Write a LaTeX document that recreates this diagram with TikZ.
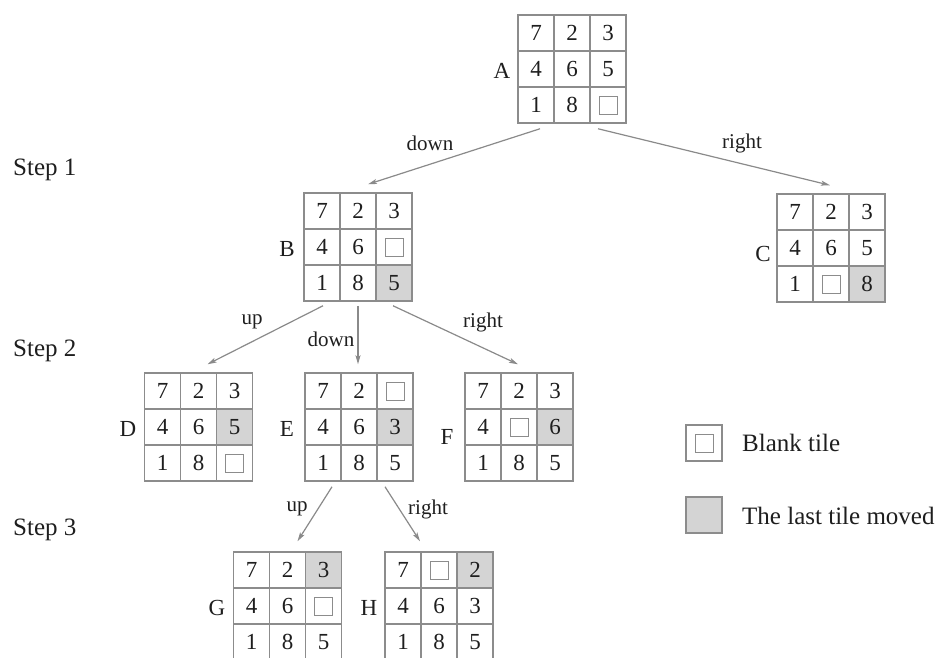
\documentclass[tikz,border=0pt]{standalone}
\usepackage{fontspec}
\setmainfont{Liberation Serif}
\usetikzlibrary{arrows.meta,calc,matrix}
\definecolor{gridc}{HTML}{8C8C8C}
\definecolor{shadec}{HTML}{D4D4D4}
\definecolor{arrc}{HTML}{8A8A8A}
\definecolor{txtc}{HTML}{1E1E1E}
\begin{document}
\begin{tikzpicture}[x=1pt,y=-1pt,
  cell/.style={draw=gridc,line width=1.1pt,minimum size=36pt,inner sep=0pt,
    text=txtc,font=\fontsize{23}{27}\selectfont,text height=15.5pt,text depth=0pt},
  board/.style={matrix of nodes,nodes={cell},column sep=-1.1pt,row sep=-1.1pt,inner sep=0pt},
  blank/.style={path picture={\draw[gridc,line width=1pt]
    ($(path picture bounding box.center)+(-9,-9)$) rectangle ($(path picture bounding box.center)+(9,9)$);}},
  last/.style={fill=shadec},
  lbl/.style={font=\fontsize{23}{27}\selectfont,text=txtc,inner sep=0pt},
  steplbl/.style={font=\fontsize{25}{29}\selectfont,text=txtc,inner sep=0pt},
  conn/.style={draw=arrc,line width=1.2pt,-{Stealth[length=9pt,width=5pt,inset=2pt]}},
  mv/.style={font=\fontsize{21}{25}\selectfont,text=txtc,inner sep=0pt}]
\useasboundingbox (0,0) rectangle (947,657);

% boards
\matrix (A) [board] at (572,69) {7 & 2 & 3\\ 4 & 6 & 5\\ 1 & 8 & |[blank]| \\};
\matrix (B) [board] at (358,247) {7 & 2 & 3\\ 4 & 6 & |[blank]| \\ 1 & 8 & |[last]| 5\\};
\matrix (C) [board] at (831,248) {7 & 2 & 3\\ 4 & 6 & 5\\ 1 & |[blank]| & |[last]| 8\\};
\matrix (D) [board] at (198.5,427) {7 & 2 & 3\\ 4 & 6 & |[last]| 5\\ 1 & 8 & |[blank]| \\};
\matrix (E) [board] at (359,427) {7 & 2 & |[blank]| \\ 4 & 6 & |[last]| 3\\ 1 & 8 & 5\\};
\matrix (F) [board] at (519,427) {7 & 2 & 3\\ 4 & |[blank]| & |[last]| 6\\ 1 & 8 & 5\\};
\matrix (G) [board] at (287.5,606) {7 & 2 & |[last]| 3\\ 4 & 6 & |[blank]| \\ 1 & 8 & 5\\};
\matrix (H) [board] at (439,606) {7 & |[blank]| & |[last]| 2\\ 4 & 6 & 3\\ 1 & 8 & 5\\};

% board letters
\node[lbl] (Al) at (502,71) {A};
\node[lbl] (Bl) at (287,249) {B};
\node[lbl] (Cl) at (763,254) {C};
\node[lbl] (Dl) at (128,429) {D};
\node[lbl] (El) at (287,429) {E};
\node[lbl] (Fl) at (447,437) {F};
\node[lbl] (Gl) at (217,608) {G};
\node[lbl] (Hl) at (369,608) {H};

% step labels
\node[steplbl,anchor=west] (s1) at (13,170) {Step 1};
\node[steplbl,anchor=west] (s2) at (13,351) {Step 2};
\node[steplbl,anchor=west] (s3) at (13,530) {Step 3};

% connectors
\draw[conn] ($(A.south)+(-32,5)$) -- ($(B.north)+(10,-8)$);
\draw[conn] ($(A.south)+(26,5)$) -- ($(C.north)+(-1,-8)$);
\draw[conn] ($(B.south)+(-35,4)$) -- ($(D.north)+(9,-8)$);
\draw[conn] ($(B.south)+(0,4)$) -- ($(E.north)+(-1,-8)$);
\draw[conn] ($(B.south)+(35,4)$) -- ($(F.north)+(-1,-8)$);
\draw[conn] ($(E.south)+(-27,5)$) -- ($(G.north)+(10,-10)$);
\draw[conn] ($(E.south)+(26,5)$) -- ($(H.north)+(-19,-10)$);

% move labels
\node[mv] (m1) at (430,143) {down};
\node[mv] (m2) at (742,143) {right};
\node[mv] (m3) at (252,322) {up};
\node[mv] (m4) at (331,339) {down};
\node[mv] (m5) at (483,322) {right};
\node[mv] (m6) at (297,509) {up};
\node[mv] (m7) at (428,509) {right};

% legend
\node[cell,blank] (k1) at (704,443) {};
\node[cell,last] (k2) at (704,515) {};
\node[steplbl,anchor=west] (k1t) at (742,443) {Blank tile};
\node[steplbl,anchor=west] (k2t) at (742,516) {The last tile moved};
\end{tikzpicture}
\end{document}
